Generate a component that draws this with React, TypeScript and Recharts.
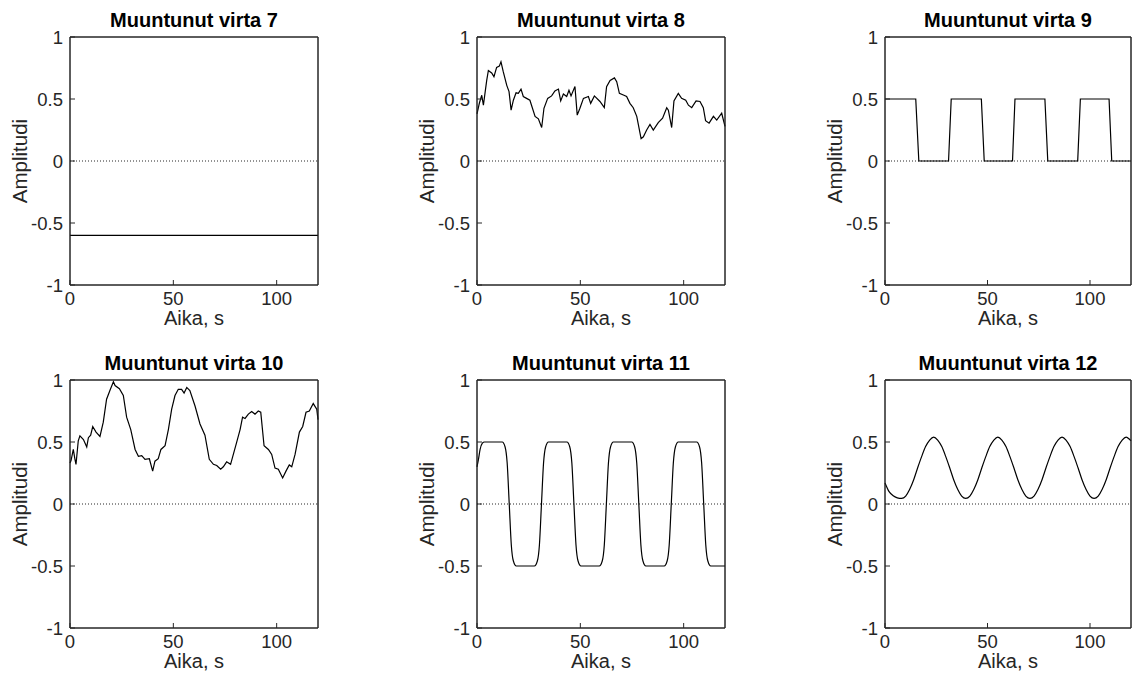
import { LineChart, Line, XAxis, YAxis, ReferenceLine, ReferenceArea } from 'recharts'

const FONT = '"Liberation Sans", Arial, Helvetica, sans-serif'
const INK = '#262626'

const xTicks = [0, 50, 100]
const yTicks = [-1, -0.5, 0, 0.5, 1]

const t7 = [0, 120]
const v7 = [-0.6, -0.6]

const t8 = [0, 1.2, 2.3, 3.1, 4.7, 5.5, 7.1, 8.2, 9.5, 10.8, 11.6, 12.7, 14.4, 15.5, 16.5, 17.6, 18.9, 20, 21.3, 22.4, 24, 25.6, 28.1, 29.7, 31.3, 32.4, 34.2, 36.1, 37.7, 39.4, 40.5, 41.8, 43.4, 44.5, 45.5, 47.4, 48.5, 49.8, 51.5, 53.9, 55, 56.8, 59.5, 61.6, 62.7, 64.4, 66.5, 67.6, 68.9, 71.1, 72.4, 74, 75.6, 77.3, 79.4, 80.5, 82.1, 83.7, 85.3, 87.7, 89.8, 91.8, 92.6, 94.2, 95.3, 97.4, 99, 101, 102.3, 103.9, 106, 107.9, 109.5, 110.6, 112.3, 114.4, 116, 118.4, 120]
const v8 = [0.38, 0.47, 0.53, 0.45, 0.65, 0.73, 0.71, 0.68, 0.755, 0.765, 0.8, 0.72, 0.61, 0.56, 0.41, 0.49, 0.55, 0.545, 0.58, 0.52, 0.505, 0.49, 0.36, 0.34, 0.27, 0.425, 0.505, 0.525, 0.565, 0.58, 0.485, 0.54, 0.52, 0.57, 0.525, 0.6, 0.37, 0.425, 0.505, 0.52, 0.465, 0.525, 0.48, 0.43, 0.6, 0.65, 0.67, 0.64, 0.545, 0.53, 0.52, 0.465, 0.43, 0.36, 0.18, 0.195, 0.25, 0.295, 0.25, 0.31, 0.345, 0.43, 0.41, 0.27, 0.485, 0.545, 0.505, 0.49, 0.45, 0.43, 0.485, 0.48, 0.43, 0.325, 0.305, 0.36, 0.33, 0.385, 0.28]

const t9 = [0, 15, 16.5, 31, 32.3, 47, 48.4, 62.2, 63.4, 78, 79.4, 94, 95.3, 109.3, 110.6, 120]
const v9 = [0.5, 0.5, 0, 0, 0.5, 0.5, 0, 0, 0.5, 0.5, 0, 0, 0.5, 0.5, 0, 0]

const t10 = [0, 0.5, 1.6, 2.4, 2.9, 4, 4.8, 6.5, 8.1, 8.9, 10, 11, 12.6, 14.5, 16.1, 17.7, 19.4, 21, 21.8, 23.9, 25.8, 27.4, 29.4, 31.5, 33.1, 34.7, 36.3, 38.4, 40, 41.1, 42.7, 44, 46, 47.6, 49.2, 50.8, 52.4, 54, 55.2, 56.5, 58, 60.5, 62.9, 65.3, 67.4, 69.4, 71, 72.9, 74.2, 75.8, 77.7, 78.7, 80.6, 82.3, 83.5, 84.7, 86.3, 87.9, 89.5, 91.1, 92.3, 93.9, 96, 97.6, 99.2, 100.8, 102.9, 104.5, 106.1, 107.3, 108.9, 111, 112.6, 114.2, 115.8, 117.7, 119.4, 120]
const v10 = [0.33, 0.35, 0.44, 0.36, 0.32, 0.51, 0.55, 0.52, 0.46, 0.535, 0.555, 0.625, 0.58, 0.545, 0.66, 0.845, 0.92, 0.985, 0.955, 0.93, 0.875, 0.7, 0.6, 0.44, 0.385, 0.39, 0.36, 0.365, 0.265, 0.345, 0.365, 0.44, 0.47, 0.6, 0.765, 0.875, 0.925, 0.925, 0.895, 0.94, 0.915, 0.79, 0.645, 0.555, 0.36, 0.32, 0.31, 0.28, 0.3, 0.34, 0.32, 0.38, 0.495, 0.6, 0.7, 0.69, 0.725, 0.745, 0.725, 0.75, 0.74, 0.47, 0.44, 0.4, 0.29, 0.28, 0.21, 0.265, 0.315, 0.3, 0.4, 0.58, 0.625, 0.74, 0.75, 0.81, 0.765, 0.68]

const t11 = [0, 0.7, 1.5, 2.6, 3.6, 12.2, 13.6, 14.6, 15.6, 16.6, 17.6, 19.0, 27.8, 29.2, 30.2, 31.2, 32.2, 33.2, 34.6, 43.5, 44.9, 45.9, 46.9, 47.9, 48.9, 50.3, 59.2, 60.6, 61.6, 62.6, 63.6, 64.6, 66.0, 74.9, 76.3, 77.3, 78.3, 79.3, 80.3, 81.7, 90.6, 92.0, 93.0, 94.0, 95.0, 96.0, 97.4, 106.3, 107.7, 108.7, 109.7, 110.7, 111.7, 113.1, 120]
const v11 = [0.3, 0.36, 0.44, 0.49, 0.5,
  0.5, 0.46, 0.33, 0, -0.33, -0.46, -0.5,
  -0.5, -0.46, -0.33, 0, 0.33, 0.46, 0.5,
  0.5, 0.46, 0.33, 0, -0.33, -0.46, -0.5,
  -0.5, -0.46, -0.33, 0, 0.33, 0.46, 0.5,
  0.5, 0.46, 0.33, 0, -0.33, -0.46, -0.5,
  -0.5, -0.46, -0.33, 0, 0.33, 0.46, 0.5,
  0.5, 0.46, 0.33, 0, -0.33, -0.46, -0.5,
  -0.5]

const t12 = [0, 2, 4, 6, 8.1, 10.1, 12, 14, 15.9, 17.9, 19.8, 21.8, 23.75, 25.7, 27.7, 29.6, 31.6, 33.5, 35.5, 37.4, 39.4, 41.4, 43.3, 45.3, 47.2, 49.2, 51.1, 53.1, 55.05, 57, 59, 60.9, 62.9, 64.8, 66.8, 68.7, 70.7, 72.7, 74.6, 76.6, 78.5, 80.5, 82.4, 84.4, 86.35, 88.3, 90.3, 92.2, 94.2, 96.1, 98.1, 100, 102, 104, 105.9, 107.9, 109.8, 111.8, 113.7, 115.7, 117.65, 119.6, 120]
const v12 = [0.17, 0.1, 0.066, 0.05, 0.045, 0.064, 0.117, 0.196, 0.29, 0.384, 0.463, 0.516, 0.54, 0.516, 0.463, 0.384, 0.29, 0.196, 0.117, 0.064, 0.045, 0.064, 0.117, 0.196, 0.29, 0.384, 0.463, 0.516, 0.54, 0.516, 0.463, 0.384, 0.29, 0.196, 0.117, 0.064, 0.045, 0.064, 0.117, 0.196, 0.29, 0.384, 0.463, 0.516, 0.54, 0.516, 0.463, 0.384, 0.29, 0.196, 0.117, 0.064, 0.045, 0.064, 0.117, 0.196, 0.29, 0.384, 0.463, 0.516, 0.54, 0.516, 0.51]

const tickStyle = { fill: INK, fontSize: 18.5, fontFamily: FONT }

type PanelProps = {
  title: string
  t: number[]
  v: number[]
  curve: 'linear' | 'monotone'
  x: number
  y: number
  w?: number
}

function Panel({ title, t, v, curve, x, y, w = 248 }: PanelProps) {
  const data = t.map((tt, i) => ({ t: tt, v: v[i] }))
  const width = 70 + w + 21
  return (
    <div style={{ position: 'absolute', left: x - 70, top: y - 37, width, height: 345 }}>
      <div
        style={{
          position: 'absolute', left: 70, width: w, top: 10.4, textAlign: 'center',
          fontSize: 20, lineHeight: '20px', fontWeight: 'bold', color: '#000', whiteSpace: 'nowrap',
        }}
      >
        {title}
      </div>
      <div
        style={{
          position: 'absolute', left: 19.5, top: 161, transform: 'translate(-50%, -50%) rotate(-90deg)',
          fontSize: 20.5, lineHeight: '20px', color: INK, whiteSpace: 'nowrap',
        }}
      >
        Amplitudi
      </div>
      <LineChart width={width} height={345} data={data} margin={{ top: 36, right: 20, bottom: 0, left: 20 }}>
        <XAxis
          dataKey="t" type="number" domain={[0, 120]} ticks={xTicks} interval={0}
          height={60} tickSize={-5} tickMargin={12} tick={tickStyle}
          axisLine={{ stroke: INK }} tickLine={{ stroke: INK }}
          label={{ value: 'Aika, s', position: 'insideBottom', offset: 20, fill: INK, fontSize: 20, fontFamily: FONT }}
        />
        <XAxis
          xAxisId="top" orientation="top" dataKey="t" type="number" domain={[0, 120]} ticks={xTicks}
          interval={0} height={1} tickSize={-5} tick={false}
          axisLine={{ stroke: INK }} tickLine={{ stroke: INK }}
        />
        <YAxis
          type="number" domain={[-1, 1]} ticks={yTicks} interval={0} width={50}
          tickSize={-5} tickMargin={12} tick={tickStyle} tickFormatter={(n) => String(n)}
          axisLine={{ stroke: INK }} tickLine={{ stroke: INK }}
        />
        <YAxis
          yAxisId="right" orientation="right" type="number" domain={[-1, 1]} ticks={yTicks}
          interval={0} width={1} tickSize={-5} tick={false}
          axisLine={{ stroke: INK }} tickLine={{ stroke: INK }}
        />
        <ReferenceArea x1={0} x2={120} y1={-1} y2={1} fill="none" stroke={INK} strokeWidth={1} />
        <ReferenceLine y={0} stroke={INK} strokeDasharray="1 2" strokeWidth={1} />
        <Line
          dataKey="v" type={curve} stroke="#000" strokeWidth={1.2} dot={false}
          isAnimationActive={false}
        />
      </LineChart>
    </div>
  )
}

export default function App() {
  return (
    <div
      style={{
        position: 'fixed', left: 0, top: 0, width: 1133, height: 675, overflow: 'hidden',
        background: '#fff', fontFamily: FONT,
      }}
    >
      <Panel title="Muuntunut virta 7" t={t7} v={v7} curve="linear" x={70} y={37} />
      <Panel title="Muuntunut virta 8" t={t8} v={v8} curve="linear" x={477} y={37} />
      <Panel title="Muuntunut virta 9" t={t9} v={v9} curve="linear" x={885} y={37} w={246} />
      <Panel title="Muuntunut virta 10" t={t10} v={v10} curve="linear" x={70} y={380} />
      <Panel title="Muuntunut virta 11" t={t11} v={v11} curve="monotone" x={477} y={380} />
      <Panel title="Muuntunut virta 12" t={t12} v={v12} curve="monotone" x={885} y={380} w={246} />
    </div>
  )
}
